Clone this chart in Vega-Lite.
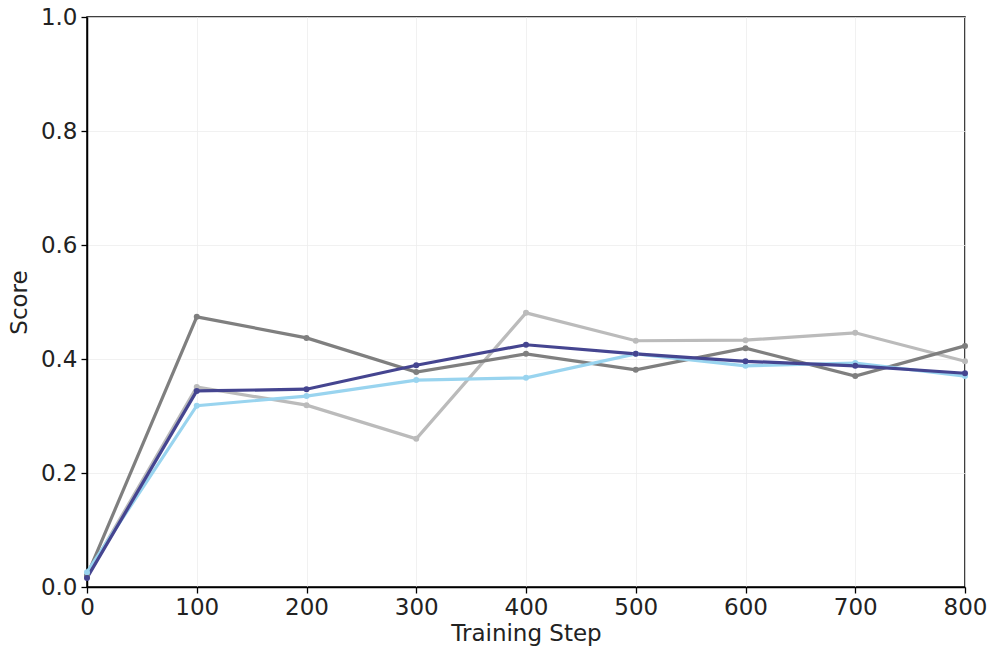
{
  "$schema": "https://vega.github.io/schema/vega-lite/v6.json",
  "width": 878,
  "height": 570,
  "autosize": {"type": "none"},
  "padding": {"left": 87, "top": 17, "right": 31, "bottom": 73},
  "background": "white",
  "config": {
    "font": "DejaVu Sans",
    "view": {"stroke": "black", "strokeWidth": 1.5},
    "axis": {
      "labelFont": "DejaVu Sans",
      "titleFont": "DejaVu Sans",
      "labelFontSize": 23,
      "titleFontSize": 23,
      "titleFontWeight": "normal",
      "labelColor": "#222222",
      "titleColor": "#222222",
      "labelFlush": false,
      "domainColor": "black",
      "domainWidth": 1.5,
      "tickColor": "black",
      "tickSize": 6,
      "tickWidth": 1.3,
      "gridColor": "#eeeeee",
      "gridWidth": 0.8
    }
  },
  "data": {
    "values": [
      {"series": "Series 1", "step": 0, "score": 0.02},
      {"series": "Series 1", "step": 100, "score": 0.351},
      {"series": "Series 1", "step": 200, "score": 0.319},
      {"series": "Series 1", "step": 300, "score": 0.26},
      {"series": "Series 1", "step": 400, "score": 0.481},
      {"series": "Series 1", "step": 500, "score": 0.432},
      {"series": "Series 1", "step": 600, "score": 0.433},
      {"series": "Series 1", "step": 700, "score": 0.446},
      {"series": "Series 1", "step": 800, "score": 0.396},
      {"series": "Series 2", "step": 0, "score": 0.02},
      {"series": "Series 2", "step": 100, "score": 0.474},
      {"series": "Series 2", "step": 200, "score": 0.437},
      {"series": "Series 2", "step": 300, "score": 0.377},
      {"series": "Series 2", "step": 400, "score": 0.409},
      {"series": "Series 2", "step": 500, "score": 0.381},
      {"series": "Series 2", "step": 600, "score": 0.419},
      {"series": "Series 2", "step": 700, "score": 0.37},
      {"series": "Series 2", "step": 800, "score": 0.423},
      {"series": "Series 3", "step": 0, "score": 0.026},
      {"series": "Series 3", "step": 100, "score": 0.318},
      {"series": "Series 3", "step": 200, "score": 0.335},
      {"series": "Series 3", "step": 300, "score": 0.363},
      {"series": "Series 3", "step": 400, "score": 0.367},
      {"series": "Series 3", "step": 500, "score": 0.409},
      {"series": "Series 3", "step": 600, "score": 0.388},
      {"series": "Series 3", "step": 700, "score": 0.393},
      {"series": "Series 3", "step": 800, "score": 0.37},
      {"series": "Series 4", "step": 0, "score": 0.016},
      {"series": "Series 4", "step": 100, "score": 0.344},
      {"series": "Series 4", "step": 200, "score": 0.347},
      {"series": "Series 4", "step": 300, "score": 0.389},
      {"series": "Series 4", "step": 400, "score": 0.425},
      {"series": "Series 4", "step": 500, "score": 0.409},
      {"series": "Series 4", "step": 600, "score": 0.396},
      {"series": "Series 4", "step": 700, "score": 0.388},
      {"series": "Series 4", "step": 800, "score": 0.375}
    ]
  },
  "mark": {"type": "line", "strokeWidth": 3.2, "point": {"filled": true, "size": 36}},
  "encoding": {
    "x": {
      "field": "step", "type": "quantitative", "title": "Training Step",
      "scale": {"domain": [0, 800], "nice": false},
      "axis": {"values": [0, 100, 200, 300, 400, 500, 600, 700, 800], "titlePadding": 3, "labelPadding": 3}
    },
    "y": {
      "field": "score", "type": "quantitative", "title": "Score",
      "scale": {"domain": [0, 1], "nice": false},
      "axis": {"values": [0, 0.2, 0.4, 0.6, 0.8, 1.0], "format": ".1f", "titlePadding": 9, "labelPadding": 4}
    },
    "color": {
      "field": "series", "type": "nominal", "legend": null,
      "scale": {"domain": ["Series 1", "Series 2", "Series 3", "Series 4"], "range": ["#bbbbbb", "#7f7f7f", "#99d4ef", "#454590"]}
    },
    "order": {"field": "step", "type": "quantitative"}
  }
}
